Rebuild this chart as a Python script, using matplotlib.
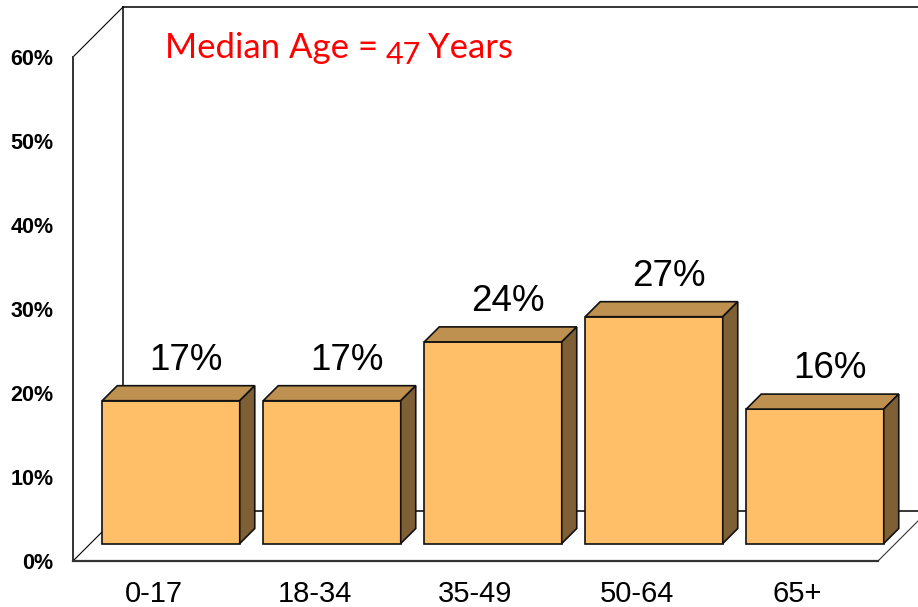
import numpy as np
import matplotlib
matplotlib.use('Agg')
import matplotlib.pyplot as plt
from matplotlib.patches import Polygon

categories = ['0-17', '18-34', '35-49', '50-64', '65+']
values = [17, 17, 24, 27, 16]
y_ticks = [0, 10, 20, 30, 40, 50, 60]

W, H = 918, 607
# front plane of the chart box, in pixels
left, right, bottom, top = 73, 878, 561, 57
ymax = 60

plt.rcParams['font.family'] = ['Liberation Sans', 'DejaVu Sans']

fig = plt.figure(figsize=(W / 100, H / 100), dpi=100)
ax = fig.add_axes([left / W, 1 - bottom / H, (right - left) / W, (bottom - top) / H])
ax.set_xlim(0, len(categories))
ax.set_ylim(0, ymax)
ax.patch.set_visible(False)
for s in ax.spines.values():
    s.set_visible(False)

# pixels to data units, for the fake 3d depth
px_x = len(categories) / (right - left)
px_y = ymax / (bottom - top)


def depth(d):
    return d * px_x, d * px_y


wall_x, wall_y = depth(50)
line_kw = dict(clip_on=False, solid_capstyle='projecting')

# back wall and floor
xend = len(categories) + wall_x
ax.plot([wall_x, wall_x], [wall_y, ymax + wall_y], color='black', lw=1.1, **line_kw)
ax.plot([wall_x, xend], [ymax + wall_y, ymax + wall_y], color='black', lw=1.1, **line_kw)
ax.plot([wall_x, xend], [wall_y, wall_y], color='black', lw=1.1, **line_kw)
ax.plot([0, wall_x], [ymax, ymax + wall_y], color='black', lw=0.8, **line_kw)
ax.plot([0, wall_x], [0, wall_y], color='black', lw=0.8, **line_kw)
ax.plot([len(categories), xend], [0, wall_y], color='#333333', lw=0.8, **line_kw)

# front axis lines
ax.plot([0, 0], [0, ymax], color='#333333', lw=1.4, **line_kw)
ax.plot([0, len(categories)], [0, 0], color='#333333', lw=1.6, **line_kw)

# bars
centers = np.arange(len(categories)) + 0.5
off_x, off_y = depth(17.5)
bar_w = 137.5 * px_x
side_x, side_y = depth(15)
edge = '#111111'

ax.bar(centers + off_x, values, bar_w, bottom=off_y, color='#FFBF69',
       edgecolor=edge, linewidth=1.2, clip_on=False, zorder=3)
for c, v in zip(centers, values):
    x0 = c + off_x - bar_w / 2
    x1 = c + off_x + bar_w / 2
    y0 = off_y
    y1 = off_y + v
    ax.add_patch(Polygon([(x0, y1), (x1, y1), (x1 + side_x, y1 + side_y), (x0 + side_x, y1 + side_y)],
                         facecolor='#BF9150', edgecolor=edge, lw=1.2, clip_on=False, zorder=3))
    ax.add_patch(Polygon([(x1, y0), (x1 + side_x, y0 + side_y), (x1 + side_x, y1 + side_y), (x1, y1)],
                         facecolor='#7F6035', edgecolor=edge, lw=1.2, clip_on=False, zorder=3))
    ax.annotate(f'{v}%', (c + off_x + side_x, y1 + side_y), xytext=(0, 8), textcoords='offset pixels',
                ha='center', va='bottom', fontsize=26.5, color='black', annotation_clip=False)

ax.set_xticks(centers, categories, fontsize=21)
ax.set_yticks(y_ticks, [f'{t}%' for t in y_ticks], fontsize=15.5, fontweight='bold')
ax.tick_params(axis='both', length=0)
ax.tick_params(axis='x', pad=14)
ax.tick_params(axis='y', pad=14)

# title, the digits sit low like old style figures
txt_kw = dict(color='#FF0000', family=['Lato', 'DejaVu Sans'], va='baseline')
fig.text(165 / W, 1 - 58 / H, 'Median Age =', fontsize=25, **txt_kw)
fig.text(386 / W, 1 - 64 / H, '47', fontsize=22, **txt_kw)
fig.text(428 / W, 1 - 58 / H, 'Years', fontsize=25, **txt_kw)

fig.savefig('out.png', dpi=100)
